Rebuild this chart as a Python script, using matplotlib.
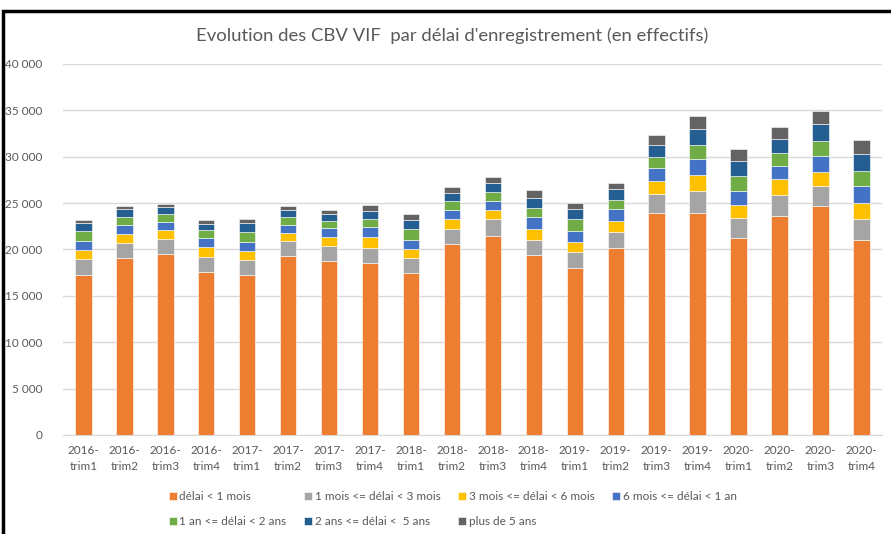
import matplotlib.pyplot as plt
import matplotlib.patches as patches
import numpy as np

plt.rcParams['font.family'] = ['Lato', 'DejaVu Sans']

trimestres = ['2016-\ntrim1', '2016-\ntrim2', '2016-\ntrim3', '2016-\ntrim4',
              '2017-\ntrim1', '2017-\ntrim2', '2017-\ntrim3', '2017-\ntrim4',
              '2018-\ntrim1', '2018-\ntrim2', '2018-\ntrim3', '2018-\ntrim4',
              '2019-\ntrim1', '2019-\ntrim2', '2019-\ntrim3', '2019-\ntrim4',
              '2020-\ntrim1', '2020-\ntrim2', '2020-\ntrim3', '2020-\ntrim4']

# effectifs par tranche de delai
moins_1_mois = [17300, 19100, 19550, 17550, 17280, 19330, 18790, 18510, 17500, 20560,
                21420, 19370, 18040, 20190, 23900, 23900, 21270, 23610, 24690, 21060]
un_3_mois = [1640, 1560, 1610, 1650, 1590, 1550, 1620, 1680, 1550, 1610,
             1830, 1690, 1650, 1690, 2110, 2370, 2090, 2230, 2190, 2230]
trois_6_mois = [1000, 1040, 940, 1050, 970, 900, 970, 1150, 1000, 1110,
                1000, 1150, 1110, 1190, 1370, 1730, 1440, 1720, 1470, 1720]
six_12_mois = [1000, 940, 900, 1040, 1000, 900, 900, 1080, 1000, 1000,
               1010, 1260, 1190, 1260, 1370, 1720, 1470, 1440, 1760, 1800]
un_2_ans = [1080, 860, 790, 790, 1080, 830, 790, 870, 1160, 940,
            940, 1040, 1290, 1040, 1250, 1540, 1650, 1430, 1580, 1620]
deux_5_ans = [800, 830, 750, 720, 900, 720, 720, 900, 930, 870,
              930, 1070, 1050, 1110, 1300, 1760, 1580, 1510, 1800, 1900]
plus_5_ans = [390, 390, 360, 430, 430, 430, 460, 580, 650, 640,
              650, 800, 680, 720, 1080, 1340, 1300, 1220, 1470, 1450]

series = [moins_1_mois, un_3_mois, trois_6_mois, six_12_mois, un_2_ans, deux_5_ans, plus_5_ans]
noms = ['délai < 1 mois', '1 mois <= délai < 3 mois', '3 mois <= délai < 6 mois',
        '6 mois <= délai < 1 an', '1 an <= délai < 2 ans', '2 ans <= délai <  5 ans',
        'plus de 5 ans']
couleurs = ['#ED7D31', '#A5A5A5', '#FFC000', '#4472C4', '#70AD47', '#255E91', '#636363']

txt = '#595959'

fig = plt.figure(figsize=(8.91, 5.34), dpi=100)
ax = fig.add_axes([0.0707, 0.1854, 0.919, 0.6948])

x = np.arange(len(trimestres))
bas = np.zeros(len(trimestres))
handles = []
for vals, nom, c in zip(series, noms, couleurs):
    b = ax.bar(x, vals, width=0.4, bottom=bas, color=c, edgecolor='white',
               linewidth=0.4, label=nom, zorder=3)
    handles.append(b)
    bas += np.array(vals)

ax.set_xlim(-0.5, len(trimestres) - 0.5)
ax.set_ylim(0, 40000)
ax.set_yticks(np.arange(0, 40001, 5000))
ax.set_yticklabels([f'{v:,}'.replace(',', ' ') for v in range(0, 40001, 5000)])
ax.set_xticks(x)
ax.set_xticklabels(trimestres, linespacing=1.6)
ax.tick_params(length=0, labelsize=8.5, colors=txt)
ax.tick_params(axis='y', pad=15)
ax.tick_params(axis='x', pad=7)
ax.grid(axis='y', color='#D9D9D9', linewidth=1, zorder=0)
for s in ['top', 'right', 'left']:
    ax.spines[s].set_visible(False)
ax.spines['bottom'].set_color('#D9D9D9')

fig.text(0.508, 1 - 36 / 534, "Evolution des CBV VIF  par délai d'enregistrement (en effectifs)",
         ha='center', va='center', fontsize=13.3, color=txt)

ordre = [0, 4, 1, 5, 2, 6, 3]
fig.legend([handles[i] for i in ordre], [noms[i] for i in ordre], ncol=4,
           loc='center', bbox_to_anchor=(0.508, 1 - 509 / 534), frameon=False,
           fontsize=8.5, labelcolor=txt, handlelength=0.7, handleheight=0.7,
           handletextpad=0.2, columnspacing=1.5, labelspacing=1.15)

# cadre noir autour du graphique
fig.patches.append(patches.Rectangle((3 / 891, -0.05), 1.0, 1 - 11 / 534 + 0.05,
                                     transform=fig.transFigure, fill=False,
                                     edgecolor='black', linewidth=2.5))

fig.savefig('out.png', dpi=100)
